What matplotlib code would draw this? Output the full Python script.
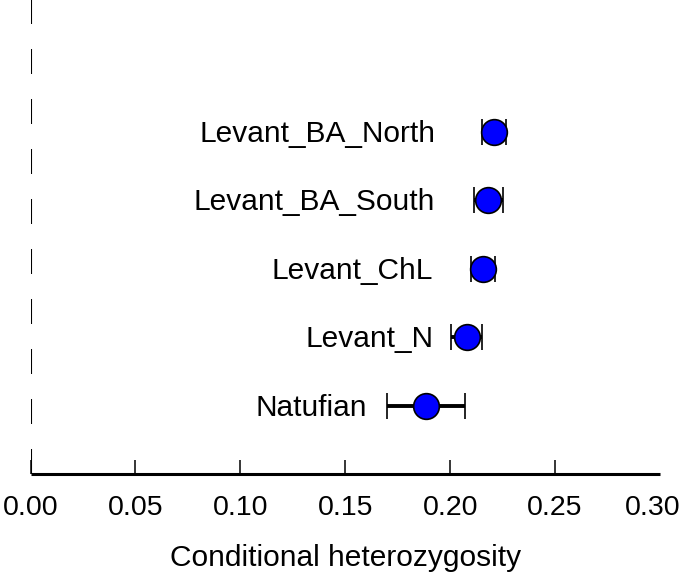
import numpy as np
import matplotlib
matplotlib.use("Agg")
import matplotlib.pyplot as plt
import matplotlib.transforms as mtransforms

# data
populations = ["Levant_BA_North", "Levant_BA_South", "Levant_ChL", "Levant_N", "Natufian"]
het_mean = [0.2209, 0.2182, 0.2155, 0.2079, 0.1885]
het_err = [0.0056, 0.0070, 0.0057, 0.0075, 0.0188]
label_x = [0.1929, 0.1929, 0.1919, 0.1919, 0.1604]
xticks = [0.00, 0.05, 0.10, 0.15, 0.20, 0.25, 0.30]

plt.rcParams['font.family'] = ['Liberation Sans', 'DejaVu Sans']
plt.rcParams['lines.scale_dashes'] = False

fig = plt.figure(figsize=(6.85, 5.79), dpi=100)
ax = fig.add_axes([30.5 / 685, 105 / 579, 629.5 / 685, 474 / 579])

rows = np.arange(len(populations), 0, -1)

ax.axvline(0, color='black', lw=1.5, dashes=(18, 18), zorder=1)

ax.errorbar(het_mean, rows, xerr=het_err, fmt='o', color='black', ecolor='black',
            elinewidth=2.8, capsize=9.5, capthick=1.2,
            marker='o', markersize=18.5, markerfacecolor='#0000ff',
            markeredgecolor='black', markeredgewidth=1.2, zorder=3)

for name, lx, r in zip(populations, label_x, rows):
    ax.annotate(name, (lx, r), xytext=(0, -7.5), textcoords='offset points',
                ha='right', va='baseline', fontsize=21.5)

ax.set_xlim(0, 0.30)
ax.set_ylim(0, 6.92)
ax.set_xticks(xticks)
ax.set_xticklabels(["%.2f" % t for t in xticks])
ax.set_yticks([])
for s in ['left', 'right', 'top']:
    ax.spines[s].set_visible(False)
ax.spines['bottom'].set_linewidth(2.2)
ax.spines['bottom'].set_capstyle('butt')
ax.tick_params(axis='x', direction='in', length=10, width=1.1, pad=15, labelsize=20.5)
last = ax.xaxis.get_major_ticks()[-1]
last.tick1line.set_visible(False)
# pull the last label in a little so it stays inside the figure
last.label1.set_transform(last.label1.get_transform() +
                          mtransforms.ScaledTranslation(-5 / 72, 0, fig.dpi_scale_trans))
ax.set_xlabel("Conditional heterozygosity", fontsize=21.5, labelpad=17)

fig.savefig("out.png", dpi=100)
